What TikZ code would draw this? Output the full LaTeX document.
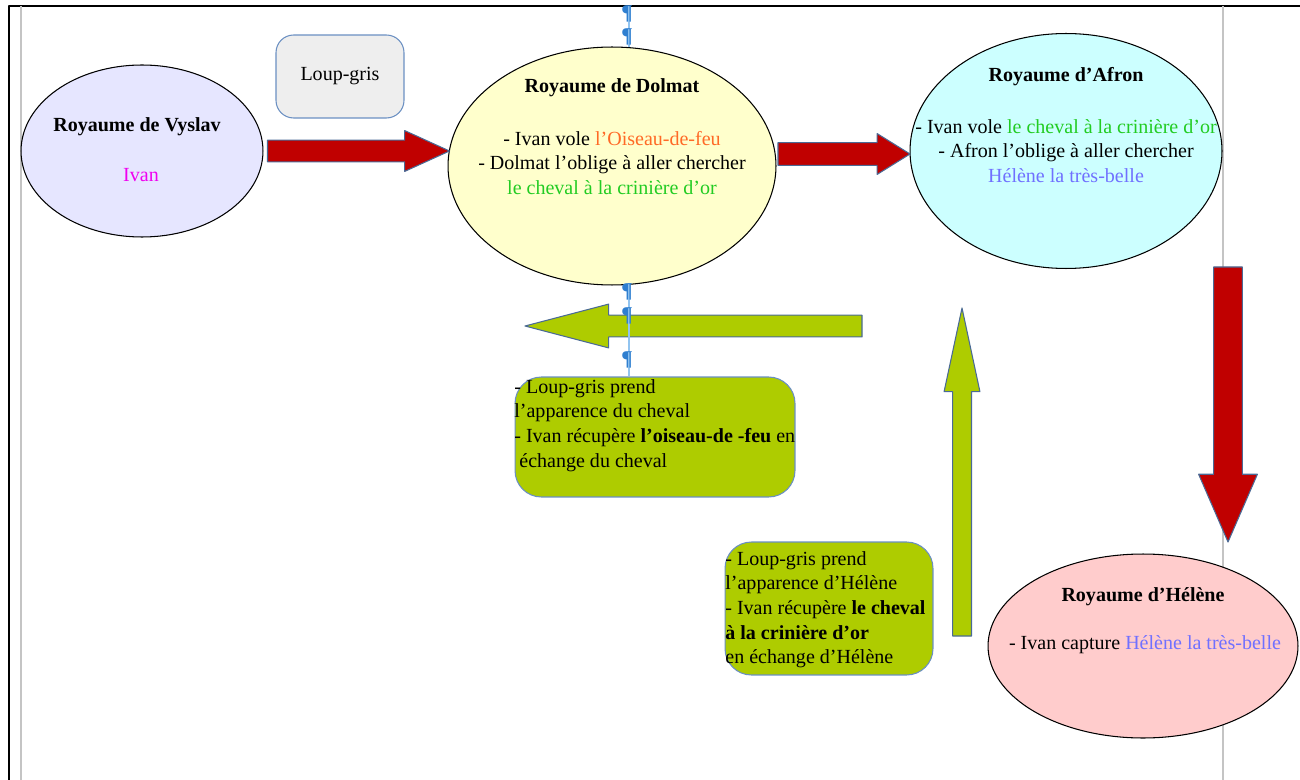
\documentclass[tikz,border=0pt]{standalone}
\usepackage{fontspec}
\setmainfont{Liberation Serif}
\usetikzlibrary{calc,shapes.geometric}

\definecolor{rougefleche}{HTML}{C00000}
\definecolor{vertfleche}{HTML}{AECC00}
\definecolor{bordfleche}{HTML}{4A6A96}
\definecolor{bordcadre}{HTML}{6A8FC2}
\definecolor{lavande}{HTML}{E6E6FF}
\definecolor{jaunepale}{HTML}{FFFFCC}
\definecolor{cyanpale}{HTML}{CCFFFF}
\definecolor{rosepale}{HTML}{FFCCCC}
\definecolor{grisclair}{HTML}{EEEEEE}
\definecolor{grispage}{HTML}{C4C4C4}
\definecolor{bleupied}{HTML}{2F7FD0}
\definecolor{bleutrait}{HTML}{92C4F0}
\definecolor{ivancol}{HTML}{F000F0}
\definecolor{feucol}{HTML}{FF6A26}
\definecolor{crinierecol}{HTML}{22CC22}
\definecolor{helenecol}{HTML}{7070FF}

\newcommand\taille{\fontsize{11.4}{14}\selectfont}
\tikzset{
  royaume/.style={ellipse, draw=black, line width=0.6pt, inner sep=0pt},
  titre/.style={font=\taille\bfseries, inner sep=0pt},
  texte/.style={align=center, inner sep=0pt},
  cadre/.style={rectangle, rounded corners=15, draw=bordcadre, line width=0.6pt, fill=vertfleche, inner sep=0pt},
  pied/.style={text=bleupied, font=\fontsize{12}{12}\selectfont\bfseries, inner sep=0pt},
  rouge/.style={fill=rougefleche, draw=bordfleche, line width=0.6pt},
  vert/.style={fill=vertfleche, draw=bordfleche, line width=0.6pt}
}

% fleche pleine : style, depart, pointe, demi-tige, tete, demi-tete (en px)
\def\px{0.5669pt}
\newcommand\flecheplate[6]{%
  \draw[#1] let \p1=($(#3)-(#2)$), \n1={atan2(\y1,\x1)}, \n2={veclen(\x1,\y1)},
    \n3={#4*\px}, \n4={\n2-#5*\px}, \n5={#6*\px} in
    [shift={(#2)}, rotate=\n1]
    (0pt,\n3) -- (\n4,\n3) -- (\n4,\n5) -- (\n2,0pt)
    -- (\n4,-\n5) -- (\n4,-\n3) -- (0pt,-\n3) -- cycle;}

\begin{document}
\begin{tikzpicture}[x=0.02cm, y=-0.02cm, font=\taille, line join=round]
\useasboundingbox (0,0) rectangle (1300,780);
% bords de la page
\draw[black, line width=0.8pt] (9,780) -- (9,6) -- (1300,6);
\draw[grispage, line width=1pt] (21,6) -- (21,780);
\draw[grispage, line width=1pt] (1223,6) -- (1223,780);

% royaumes
\node[royaume, fill=lavande, minimum width=4.84cm, minimum height=3.44cm] (vyslav) at (142,151) {};
\node[royaume, fill=jaunepale, minimum width=6.56cm, minimum height=4.76cm] (dolmat) at (612,166) {};
\node[royaume, fill=cyanpale, minimum width=6.24cm, minimum height=4.7cm] (afron) at (1066,151) {};
\node[royaume, fill=rosepale, minimum width=6.2cm, minimum height=3.68cm] (helene) at (1143,646) {};

\node[titre] (vyslav-t) at (137,127) {Royaume de Vyslav};
\node[texte, text=ivancol] (vyslav-l) at (141,175) {Ivan};

\node[titre] (dolmat-t) at (612,88) {Royaume de Dolmat};
\node[texte] (dolmat-l) at (612,163) {- Ivan vole \textcolor{feucol}{l’Oiseau-de-feu}\\
  - Dolmat l’oblige à aller chercher\\ \textcolor{crinierecol}{le cheval à la crinière d’or}};

\node[titre] (afron-t) at (1066,77) {Royaume d’Afron};
\node[texte] (afron-l) at (1066,151) {- Ivan vole \textcolor{crinierecol}{le cheval à la crinière d’or}\\
  - Afron l’oblige à aller chercher\\ \textcolor{helenecol}{Hélène la très-belle}};

\node[titre] (helene-t) at (1143,597) {Royaume d’Hélène};
\node[texte] (helene-l) at (1145,645) {- Ivan capture \textcolor{helenecol}{Hélène la très-belle}};

% loup
\node[rectangle, rounded corners=10, draw=bordcadre, line width=0.6pt, fill=grisclair,
  minimum width=2.56cm, minimum height=1.66cm] (loup) at (340,76.5) {Loup-gris};

% echanges
\node[cadre, minimum width=5.6cm, minimum height=2.4cm] (echange1) at (655,437) {};
\node[texte, align=left, anchor=north west] (echange1-t) at (514,379) {- Loup-gris prend\\
  l’apparence du cheval\\ - Ivan récupère \textbf{l’oiseau-de -feu} en\\ \ échange du cheval};
\node[cadre, minimum width=4.16cm, minimum height=2.66cm] (echange2) at (829,608.5) {};
\node[texte, align=left, anchor=north west] (echange2-t) at (725,551) {- Loup-gris prend\\
  l’apparence d’Hélène\\ - Ivan récupère \textbf{le cheval}\\ \textbf{à la crinière d’or}\\
  en échange d’Hélène};

% fleches
\coordinate (r1a) at ($(vyslav.east)+(4,0)$);
\coordinate (r1b) at ($(dolmat.west)+(2,-15)$);
\coordinate (r2a) at (778,154);
\coordinate (r2b) at (910,154);
\coordinate (r3a) at (1228,267);
\coordinate (r3b) at (1228,542);
\coordinate (v1a) at (862,326);
\coordinate (v1b) at (525,326);
\coordinate (v2a) at (962,636);
\coordinate (v2b) at (962,308);
\flecheplate{rouge}{r1a}{r1b}{11}{45}{20.5}
\flecheplate{rouge}{r2a}{r2b}{11.5}{33}{20.5}
\flecheplate{rouge}{r3a}{r3b}{14.5}{68}{29.5}
\flecheplate{vert}{v1a}{v1b}{11}{84}{22}
\flecheplate{vert}{v2a}{v2b}{9.5}{84}{18}

% marques de paragraphe
\draw[bleutrait, line width=1.4pt] (629,6) -- (629,47);
\draw[bleutrait, line width=1.4pt] (629,283) -- (629,376);
\foreach \y [count=\i] in {14,37,292,316,360}
  \node[pied] (pied\i) at (627,\y) {¶};
\end{tikzpicture}
\end{document}
